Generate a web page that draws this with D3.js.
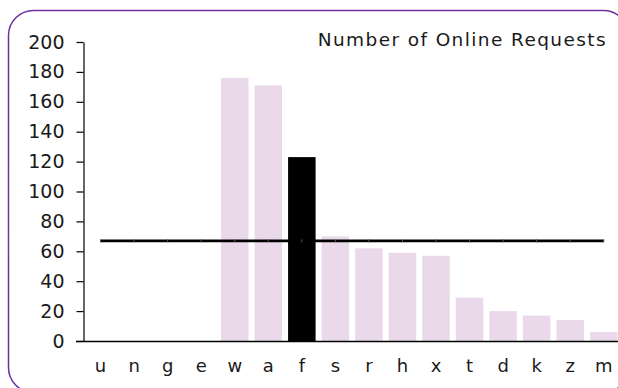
<!DOCTYPE html>
<html>
<head>
<meta charset="utf-8">
<script src="https://cdn.jsdelivr.net/npm/d3@7"></script>
<style>
  html, body { margin: 0; padding: 0; background: #ffffff; }
  svg { display: block; }
  text { font-family: "DejaVu Sans", sans-serif; fill: #1a1a1a; }
</style>
</head>
<body>
<svg id="chart" width="618" height="388"></svg>
<script>
// Online requests per category
const categories = ["u", "n", "g", "e", "w", "a", "f", "s", "r", "h", "x", "t", "d", "k", "z", "m"];
const requests   = [0, 0, 0, 0, 176, 171, 123, 70, 62, 59, 57, 29, 20, 17, 14, 6];
const highlighted = ["f"];
const averageValue = 67;
const yTicks = [0, 20, 40, 60, 80, 100, 120, 140, 160, 180, 200];
const chartTitle = "Number of Online Requests";

const W = 618, H = 388;
const svg = d3.select("#chart");

// rounded frame
svg.append("rect")
  .attr("x", 8.5).attr("y", 10.5)
  .attr("width", 620).attr("height", 382)
  .attr("rx", 25).attr("ry", 25)
  .attr("fill", "none")
  .attr("stroke", "#7030a0")
  .attr("stroke-width", 1.5);

const plotLeft = 83, plotTop = 42, plotBottom = 341;

const x = d3.scaleBand()
  .domain(categories)
  .range([plotLeft, 621.3])
  .paddingInner(0.18)
  .paddingOuter(0.113);

const y = d3.scaleLinear()
  .domain([0, 200])
  .range([plotBottom, plotTop]);

// bars
svg.append("g").selectAll("rect")
  .data(categories.map((c, i) => ({ c, v: requests[i] })))
  .join("rect")
  .attr("x", d => x(d.c))
  .attr("y", d => y(d.v))
  .attr("width", x.bandwidth())
  .attr("height", d => y(0) - y(d.v))
  .attr("fill", d => highlighted.includes(d.c) ? "#000000" : "#ead9eb");

// y axis
const yAxis = svg.append("g")
  .attr("transform", `translate(${plotLeft + 0.5},0)`)
  .call(d3.axisLeft(y).tickValues(yTicks).tickSize(7).tickPadding(12).tickSizeOuter(0));
yAxis.select(".domain").attr("stroke", "#000").attr("stroke-width", 1.2);
yAxis.selectAll(".tick line").attr("stroke", "#000").attr("stroke-width", 1.2);
yAxis.selectAll(".tick text")
  .style("font-size", "19px")
  .attr("fill", "#1a1a1a");

// x axis (baseline + category labels)
const xAxis = svg.append("g")
  .attr("transform", `translate(0,${plotBottom + 0.5})`)
  .call(d3.axisBottom(x).tickSize(0).tickPadding(18).tickSizeOuter(0));
xAxis.select(".domain")
  .attr("d", `M${plotLeft - 7},0H${W}`)
  .attr("stroke", "#000").attr("stroke-width", 1.5);
xAxis.selectAll(".tick text")
  .style("font-size", "18px")
  .attr("fill", "#1a1a1a");

// average line across all categories
const cx = c => x(c) + x.bandwidth() / 2;
const avgLine = d3.line()
  .x(d => cx(d))
  .y(() => y(averageValue));
svg.append("path")
  .datum(categories)
  .attr("d", avgLine)
  .attr("fill", "none")
  .attr("stroke", "#000")
  .attr("stroke-width", 2.8);

// small markers on the average line
svg.append("g").selectAll("line")
  .data(categories)
  .join("line")
  .attr("x1", d => cx(d)).attr("x2", d => cx(d))
  .attr("y1", y(averageValue) - 1.5).attr("y2", y(averageValue) + 1.5)
  .attr("stroke", "#555")
  .attr("stroke-width", 1);

// title
svg.append("text")
  .attr("x", 607)
  .attr("y", 46)
  .attr("text-anchor", "end")
  .style("font-size", "18.5px")
  .style("letter-spacing", "1.4px")
  .text(chartTitle);
</script>
</body>
</html>
